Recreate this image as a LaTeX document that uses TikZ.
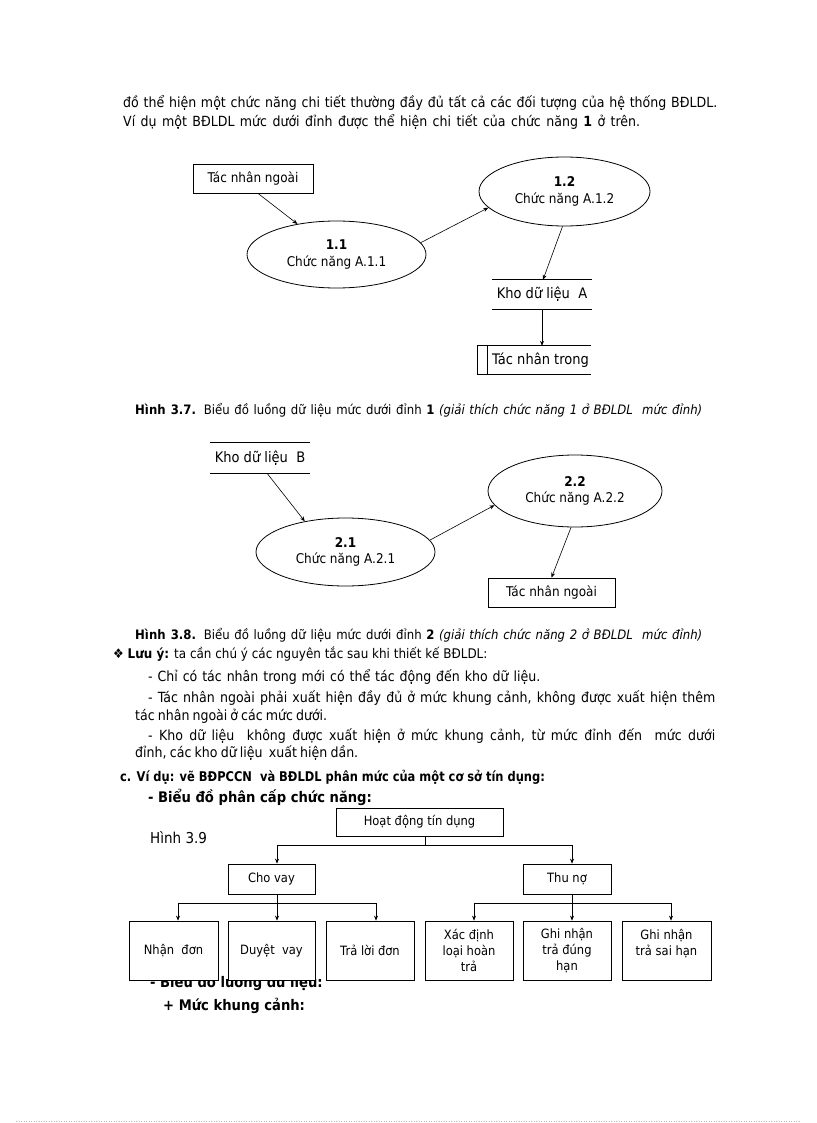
\documentclass[tikz,border=0pt]{standalone}
\usepackage{fontspec}
\usepackage{graphicx}
\setmainfont{DejaVu Sans}[FakeStretch=0.9]
\usetikzlibrary{shapes.geometric,arrows.meta}
\begin{document}
\begin{tikzpicture}[x=1pt,y=-1pt,
  body/.style={anchor=base west, inner sep=0, font=\fontsize{14}{16}\selectfont},
  bodyb/.style={anchor=base west, inner sep=0, font=\fontsize{13.4}{16}\selectfont\bfseries},
  head/.style={anchor=base west, inner sep=0, font=\fontsize{14.6}{18}\selectfont\bfseries},
  captxt/.style={anchor=base west, inner sep=0, font=\fontsize{13}{14}\selectfont},
  dtxt/.style={font=\fontsize{13.4}{16.5}\selectfont, align=center},
  proc/.style={ellipse, draw, line width=0.8pt, dtxt, inner sep=0},
  ext/.style={draw, line width=0.8pt, dtxt, inner sep=0},
  store/.style={inner sep=0, font=\fontsize{14.5}{16}\selectfont},
  fbox/.style={draw, line width=0.8pt, fill=white, inner sep=0, align=center, font=\fontsize{12.8}{16}\selectfont},
  arr/.style={-{Stealth[length=5pt,width=4pt]}, line width=0.6pt},
  tl/.style={line width=0.8pt}
]
\useasboundingbox (0,0) rectangle (816,1123);
\fill[white] (0,0) rectangle (816,1123);

% paragraph
\node[body] (p1) at (123,108) {\makebox[594pt][s]{đồ thể hiện một chức năng chi tiết thường đầy đủ tất cả các đối tượng của hệ thống BĐLDL.}};
\node[body] (p2) at (123,127) {\makebox[517pt][s]{Ví dụ một BĐLDL mức dưới đỉnh được thể hiện chi tiết của chức năng \textbf{1} ở trên.}};

% diagram 1
\node[ext, minimum width=120pt, minimum height=29pt] (tn1) at (253,178.5) {Tác nhân ngoài};
\node[proc, minimum width=179pt, minimum height=67pt] (p11) at (336.5,254.5) {\textbf{1.1}\\Chức năng A.1.1};
\node[proc, minimum width=171pt, minimum height=69pt] (p12) at (564.5,191.5) {\textbf{1.2}\\Chức năng A.1.2};
\node[store, minimum width=100pt, minimum height=29pt] (kA) at (542,294.5) {Kho dữ liệu\ \ A};
\draw[tl] (kA.north west) -- (kA.north east) (kA.south west) -- (kA.south east);
\node[store, minimum width=113pt, minimum height=28pt] (tnt) at (534.5,360) {\hspace*{12pt}Tác nhân trong};
\draw[tl] (tnt.north east) -- (tnt.north west) -- (tnt.south west) -- (tnt.south east);
\draw[tl] ([xshift=10pt]tnt.north west) -- ([xshift=10pt]tnt.south west);
\draw[arr] ([xshift=5pt]tn1.south) -- (p11.142);
\draw[arr] (p11.8) -- (p12.192);
\draw[arr] ([xshift=-2pt]p12.south) -- ([xshift=1pt]kA.north);
\draw[arr] (kA.south) -- (kA.south |- tnt.north);

\node[captxt] (c37) at (135,414) {\makebox[567pt][s]{\textbf{Hình 3.7.} Biểu đồ luồng dữ liệu mức dưới đỉnh \textbf{1} \textit{(giải thích chức năng 1 ở BĐLDL\ \ mức đỉnh)}}};

% diagram 2
\node[store, minimum width=100pt, minimum height=30pt] (kB) at (260,458) {Kho dữ liệu\ \ B};
\draw[tl] (kB.north west) -- (kB.north east) (kB.south west) -- (kB.south east);
\node[proc, minimum width=179pt, minimum height=68pt] (p21) at (345.5,552) {\textbf{2.1}\\Chức năng A.2.1};
\node[proc, minimum width=174pt, minimum height=72pt] (p22) at (575,491) {\textbf{2.2}\\Chức năng A.2.2};
\node[ext, minimum width=127pt, minimum height=29pt] (tn2) at (551.5,592.5) {Tác nhân ngoài};
\draw[arr] ([xshift=7pt]kB.south) -- (p21.143);
\draw[arr] (p21.8) -- (p22.190);
\draw[arr] ([xshift=-4pt]p22.south) -- (tn2.north);

\node[captxt] (c38) at (135,639) {\makebox[567pt][s]{\textbf{Hình 3.8.} Biểu đồ luồng dữ liệu mức dưới đỉnh \textbf{2} \textit{(giải thích chức năng 2 ở BĐLDL\ \ mức đỉnh)}}};

% notes
\node[body, font=\fontsize{13.3}{16}\selectfont] (l0) at (113,658) {❖ \textbf{Lưu ý:} ta cần chú ý các nguyên tắc sau khi thiết kế BĐLDL:};
\node[body] (l1) at (148,681) {\makebox[392pt][s]{- Chỉ có tác nhân trong mới có thể tác động đến kho dữ liệu.}};
\node[body] (l2) at (148,702) {\makebox[567pt][s]{- Tác nhân ngoài phải xuất hiện đầy đủ ở mức khung cảnh, không được xuất hiện thêm}};
\node[body] (l3) at (135,720) {\makebox[192pt][s]{tác nhân ngoài ở các mức dưới.}};
\node[body] (l4) at (148,740) {\makebox[567pt][s]{- Kho dữ liệu\ \ không được xuất hiện ở mức khung cảnh, từ mức đỉnh đến\ \ mức dưới}};
\node[body] (l5) at (135,757) {\makebox[223pt][s]{đỉnh, các kho dữ liệu\ \ xuất hiện dần.}};
\node[bodyb] (l6) at (120,781) {\scalebox{0.95}[1]{c. Ví dụ: vẽ BĐPCCN\ \ và BĐLDL phân mức của một cơ sở tín dụng:}};
\node[head] (l7) at (148,802) {- Biểu đồ phân cấp chức năng:};

% tree
\node[anchor=base west, inner sep=0, font=\fontsize{15}{16}\selectfont] (h39) at (150,843) {Hình 3.9};
\node[head] (l8) at (150,987) {- Biểu đồ luồng dữ liệu:};
\node[head] (l9) at (163,1010) {+ Mức khung cảnh:};

\node[fbox, minimum width=167pt, minimum height=28pt] (hd) at (419.5,822) {Hoạt động tín dụng};
\node[fbox, minimum width=87pt, minimum height=30pt] (cv) at (271.5,879) {Cho vay};
\node[fbox, minimum width=88pt, minimum height=30pt] (tn) at (567,879) {Thu nợ};
\node[fbox, minimum width=89pt, minimum height=59pt] (b1) at (173.5,950.5) {Nhận\ \ đơn};
\node[fbox, minimum width=87pt, minimum height=59pt] (b2) at (271.5,950.5) {Duyệt\ \ vay};
\node[fbox, minimum width=88pt, minimum height=59pt] (b3) at (370,950.5) {Trả lời đơn};
\node[fbox, minimum width=88pt, minimum height=59pt] (b4) at (469,950.5) {Xác định\\loại hoàn\\trả};
\node[fbox, minimum width=88pt, minimum height=59pt] (b5) at (567,950.5) {Ghi nhận\\trả đúng\\hạn};
\node[fbox, minimum width=89pt, minimum height=59pt] (b6) at (666.5,950.5) {Ghi nhận\\trả sai hạn\\\mbox{}};

\coordinate (j0) at (425,845);
\coordinate (j1) at (277,903);
\coordinate (j2) at (572,903);
\draw[line width=0.6pt] (hd.south -| j0) -- (j0);
\draw[arr] (j0) -| ([xshift=5.5pt]cv.north);
\draw[arr] (j0) -| ([xshift=5pt]tn.north);
\draw[line width=0.6pt] ([xshift=5.5pt]cv.south) -- (j1);
\draw[line width=0.6pt] ([xshift=5pt]tn.south) -- (j2);
\draw[arr] (j1) -| ([xshift=4.5pt]b1.north);
\draw[arr] (j1) -- ([xshift=5.5pt]b2.north);
\draw[arr] (j1) -| ([xshift=6pt]b3.north);
\draw[arr] (j2) -| ([xshift=5pt]b4.north);
\draw[arr] (j2) -- ([xshift=5pt]b5.north);
\draw[arr] (j2) -| ([xshift=4.5pt]b6.north);

\draw[gray!50, dotted, line width=0.5pt] (16,1121.5) -- (800,1121.5);
\end{tikzpicture}
\end{document}
